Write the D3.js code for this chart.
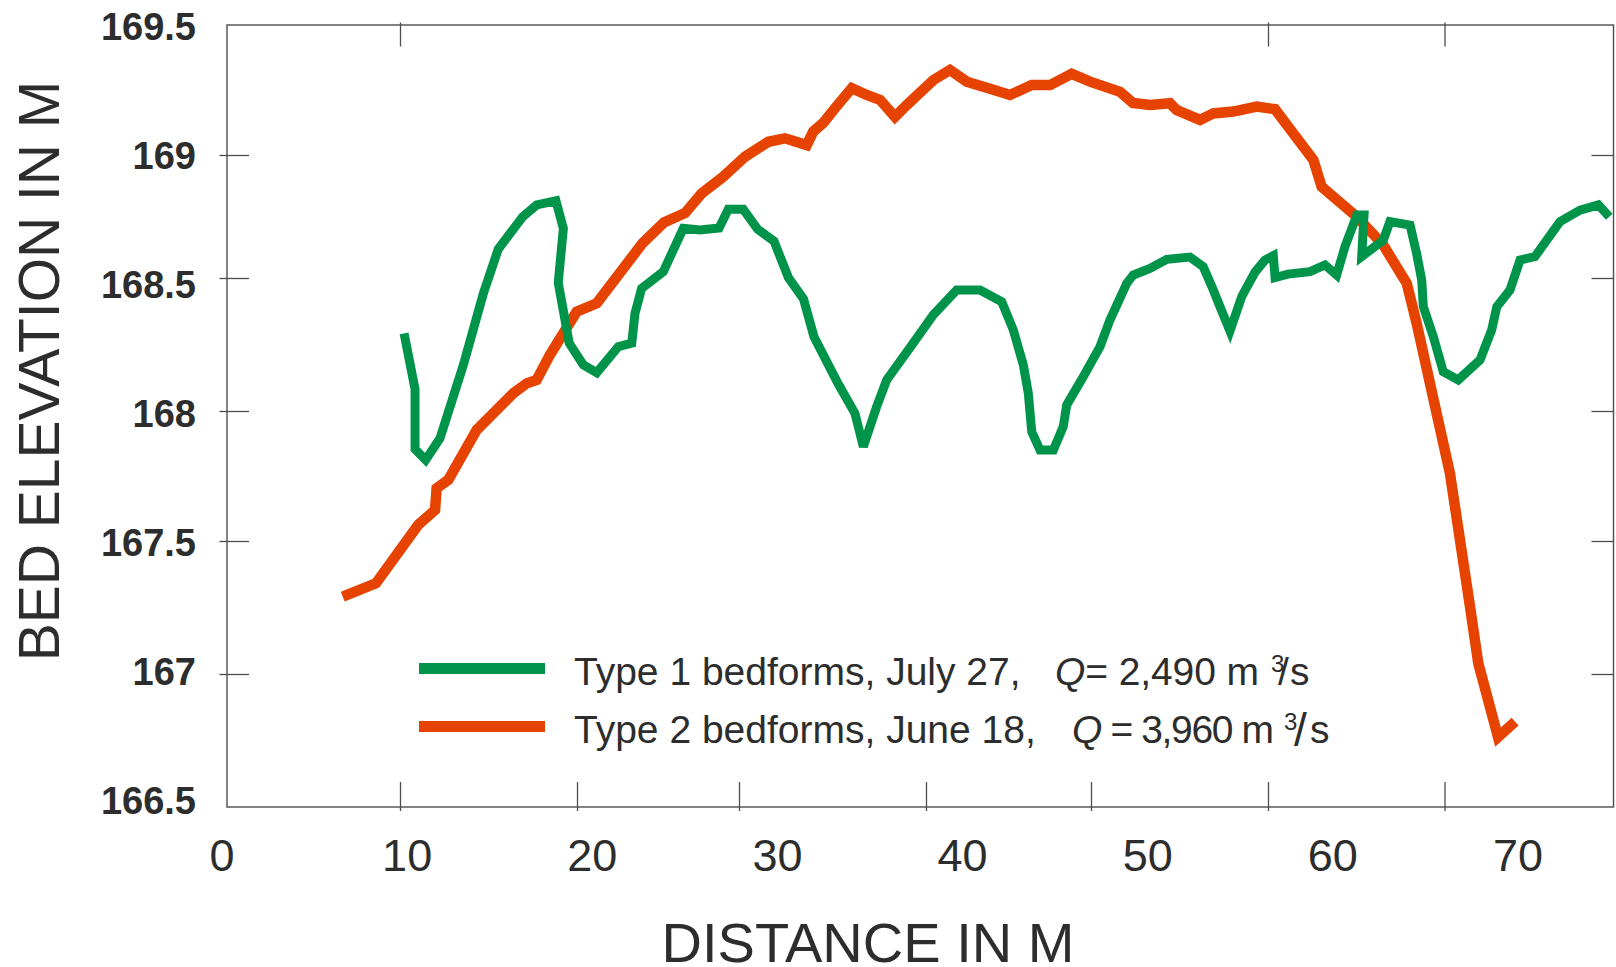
<!DOCTYPE html>
<html>
<head>
<meta charset="utf-8">
<script src="https://cdn.jsdelivr.net/npm/d3@7"></script>
<style>
  body { margin: 0; background: #fff; }
  svg { display: block; }
  text { font-family: "Liberation Sans", Arial, Helvetica, sans-serif; fill: #2d2d2d; }
</style>
</head>
<body>
<svg id="chart" width="1616" height="967"></svg>
<script>
// Axis ticks
const distanceTicks = [0, 10, 20, 30, 40, 50, 60, 70];
const elevationTicks = [166.5, 167, 167.5, 168, 168.5, 169, 169.5];
const topTicks = [10, 60, 70];
const distanceMax = 79.6;

// Type 1 bedforms, July 27 (distance in m, bed elevation in m)
const type1Distance = [10.23, 10.85, 10.85, 11.45, 12.26, 13.58, 14.71, 15.55, 16.93, 17.72,
  18.81, 19.23, 18.94, 19.56, 20.39, 21.22, 22.55, 23.38, 23.58, 23.99,
  25.33, 26.56, 27.59, 28.77, 29.34, 30.23, 30.99, 31.87, 32.64, 33.45,
  34.01, 35.29, 36.20, 36.65, 37.36, 37.90, 39.24, 40.44, 41.86, 43.27,
  44.59, 45.29, 45.90, 46.20, 46.41, 46.91, 47.72, 48.32, 48.53, 49.53,
  50.51, 51.07, 52.02, 52.39, 53.33, 54.28, 55.59, 56.34, 56.91, 57.29,
  57.85, 58.53, 59.27, 59.83, 60.30, 60.40, 61.13, 62.38, 63.23, 63.89,
  64.36, 65.04, 65.44, 65.31, 66.53, 66.91, 68.05, 68.42, 68.71, 68.80,
  69.37, 69.93, 70.78, 72.02, 72.68, 72.97, 73.72, 74.29, 75.14, 76.56,
  77.70, 78.74, 79.36];
const type1Elevation = [168.292, 168.082, 167.853, 167.812, 167.895, 168.173, 168.442, 168.617, 168.749, 168.797,
  168.814, 168.702, 168.482, 168.255, 168.173, 168.144, 168.242, 168.255, 168.367, 168.461,
  168.526, 168.702, 168.695, 168.703, 168.779, 168.779, 168.699, 168.650, 168.502, 168.421,
  168.279, 168.104, 167.991, 167.863, 168.016, 168.117, 168.248, 168.361, 168.455, 168.455,
  168.411, 168.305, 168.173, 168.067, 167.920, 167.850, 167.850, 167.940, 168.023, 168.129,
  168.242, 168.342, 168.480, 168.512, 168.539, 168.576, 168.585, 168.546, 168.455, 168.392,
  168.301, 168.432, 168.524, 168.573, 168.591, 168.502, 168.516, 168.526, 168.553, 168.512,
  168.627, 168.756, 168.756, 168.587, 168.654, 168.729, 168.715, 168.600, 168.492, 168.392,
  168.279, 168.148, 168.117, 168.192, 168.305, 168.392, 168.455, 168.573, 168.587, 168.729,
  168.776, 168.797, 168.749];

// Type 2 bedforms, June 18
const type2Distance = [6.69, 8.61, 11.03, 11.98, 12.07, 12.73, 14.33, 16.40, 17.16, 17.72,
  18.47, 19.98, 21.22, 24.04, 25.37, 26.67, 27.70, 29.03, 30.32, 31.57,
  32.46, 33.62, 33.97, 34.51, 35.13, 36.03, 36.83, 37.54, 38.34, 38.97,
  40.44, 41.45, 42.47, 43.98, 45.09, 46.41, 47.52, 48.83, 49.94, 51.64,
  52.37, 53.33, 54.46, 54.84, 56.16, 56.91, 58.04, 59.36, 60.40, 61.43,
  62.57, 63.04, 65.03, 66.53, 67.86, 68.42, 70.31, 71.45, 71.92, 73.04,
  74.01];
const type2Elevation = [167.291, 167.341, 167.562, 167.619, 167.703, 167.735, 167.927, 168.067, 168.104, 168.117,
  168.211, 168.373, 168.405, 168.641, 168.726, 168.764, 168.844, 168.912, 168.993, 169.051,
  169.064, 169.038, 169.090, 169.124, 169.180, 169.257, 169.231, 169.212, 169.147, 169.192,
  169.288, 169.327, 169.282, 169.253, 169.231, 169.269, 169.269, 169.312, 169.282, 169.243,
  169.200, 169.192, 169.199, 169.173, 169.135, 169.160, 169.167, 169.186, 169.176, 169.083,
  168.980, 168.871, 168.749, 168.634, 168.480, 168.330, 167.760, 167.253, 167.040, 166.763,
  166.821];

// Legend text
const legendMain = ["Type 1 bedforms, July 27,", "Type 2 bedforms, June 18,"];
const legendQ = ["= 2,490 m", " = 3,960 m"];
const seriesColors = ["#00944a", "#e64200"];

const svg = d3.select("#chart");

const x = d3.scaleLinear()
  .domain([0, 10, 20, 30, 40, 50, 60, 70, distanceMax])
  .range([227, 400, 577, 739, 926, 1091, 1268, 1444.5, 1613.5]);
const y = d3.scaleLinear()
  .domain(elevationTicks)
  .range([807, 674, 541, 411, 278, 155, 25]);

// label placement scales (labels are spaced evenly along each axis)
const xLabel = d3.scaleLinear().domain([0, 70]).range([222, 1518]);
const yLabel = d3.scaleLinear().domain([166.5, 169.5]).range([800, 26.7]);

const axisColor = "#4d4d4d";

// plot frame
svg.append("rect")
  .attr("x", x(0)).attr("y", y(169.5))
  .attr("width", x(distanceMax) - x(0))
  .attr("height", y(166.5) - y(169.5))
  .attr("fill", "none").attr("stroke", axisColor).attr("stroke-width", 1.4);

function styleTicks(g) {
  g.select(".domain").remove();
  g.selectAll(".tick line").attr("stroke", axisColor).attr("stroke-width", 1.3);
}

// bottom ticks
svg.append("g")
  .attr("transform", `translate(0,${y(166.5)})`)
  .call(d3.axisBottom(x).tickValues(distanceTicks.slice(1)).tickSize(-25).tickSizeOuter(0).tickFormat(""))
  .call(styleTicks)
  .call(g => g.selectAll(".tick line").attr("y1", 4));

// top ticks
svg.append("g")
  .attr("transform", `translate(0,${y(169.5)})`)
  .call(d3.axisTop(x).tickValues(topTicks).tickSize(-21.5).tickSizeOuter(0).tickFormat(""))
  .call(styleTicks)
  .call(g => g.selectAll(".tick line").attr("y1", -2.5));

const innerY = elevationTicks.slice(1, -1);
// left ticks
svg.append("g")
  .attr("transform", `translate(${x(0)},0)`)
  .call(d3.axisLeft(y).tickValues(innerY).tickSize(-22).tickSizeOuter(0).tickFormat(""))
  .call(styleTicks)
  .call(g => g.selectAll(".tick line").attr("x1", -7.5));

// right ticks
svg.append("g")
  .attr("transform", `translate(${x(distanceMax)},0)`)
  .call(d3.axisRight(y).tickValues(innerY).tickSize(-22).tickSizeOuter(0).tickFormat(""))
  .call(styleTicks);

// tick labels
svg.append("g").selectAll("text")
  .data(distanceTicks).join("text")
  .attr("x", d => xLabel(d)).attr("y", 871)
  .attr("text-anchor", "middle")
  .attr("font-size", 45)
  .text(d => d);

svg.append("g").selectAll("text")
  .data(elevationTicks).join("text")
  .attr("x", 196).attr("y", d => yLabel(d))
  .attr("dy", "0.36em")
  .attr("text-anchor", "end")
  .attr("font-size", 38).attr("font-weight", "bold")
  .text(d => d3.format("")(d));

// axis titles
svg.append("text")
  .attr("x", 868).attr("y", 962)
  .attr("text-anchor", "middle")
  .attr("font-size", 56)
  .text("DISTANCE IN M");

svg.append("text")
  .attr("transform", "translate(59,371) rotate(-90)")
  .attr("text-anchor", "middle")
  .attr("font-size", 57)
  .text("BED ELEVATION IN M");

// profiles
const line = d3.line().x(d => x(d[0])).y(d => y(d[1]));

svg.append("path")
  .datum(d3.zip(type2Distance, type2Elevation))
  .attr("d", line)
  .attr("fill", "none").attr("stroke", seriesColors[1])
  .attr("stroke-width", 10.5).attr("stroke-linejoin", "miter").attr("stroke-miterlimit", 3);

svg.append("path")
  .datum(d3.zip(type1Distance, type1Elevation))
  .attr("d", line)
  .attr("fill", "none").attr("stroke", seriesColors[0])
  .attr("stroke-width", 9).attr("stroke-linejoin", "miter").attr("stroke-miterlimit", 3);

// legend
const legendRows = [685, 743];
const legendQx = [1055, 1072];
const legendQw = [204, 202];
const supX = [1271, 1284];
const slashX = [1278, 1294];
const slashSize = [39, 46];
const sX = [1290, 1310];
const legend = svg.append("g");
legendRows.forEach((base, i) => {
  legend.append("line")
    .attr("x1", 419).attr("x2", 545)
    .attr("y1", base - 16.5).attr("y2", base - 16.5)
    .attr("stroke", seriesColors[i]).attr("stroke-width", 11);
  legend.append("text")
    .attr("x", 574).attr("y", base).attr("font-size", 39)
    .text(legendMain[i]);
  const q = legend.append("text")
    .attr("x", legendQx[i]).attr("y", base).attr("font-size", 39)
    .attr("textLength", legendQw[i]).attr("lengthAdjust", "spacing");
  q.append("tspan").attr("font-style", "italic").text("Q");
  q.append("tspan").text(legendQ[i]);
  legend.append("text")
    .attr("x", supX[i]).attr("y", base - 13).attr("font-size", 24)
    .text("3");
  legend.append("text")
    .attr("x", slashX[i]).attr("y", base + (i ? 3 : 0)).attr("font-size", slashSize[i])
    .text("/");
  legend.append("text")
    .attr("x", sX[i]).attr("y", base).attr("font-size", 39)
    .text("s");
});
</script>
</body>
</html>
